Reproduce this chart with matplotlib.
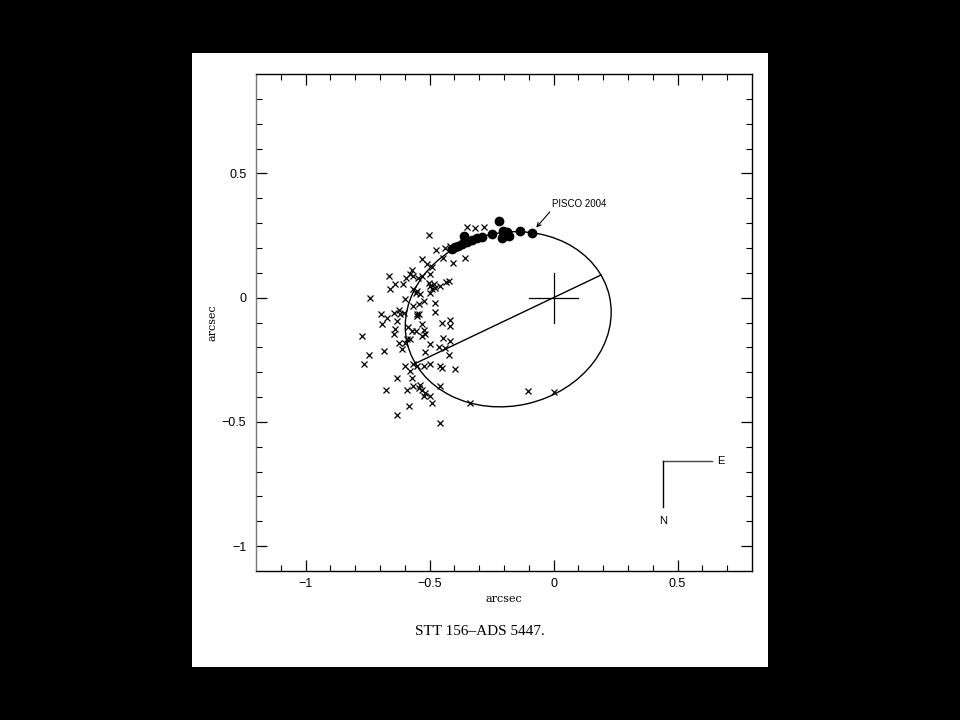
import matplotlib
matplotlib.use("Agg")
from matplotlib import pyplot as plt, patches
import numpy as np

plt.rcParams['font.family'] = ['Liberation Sans', 'DejaVu Sans']

# visual measurements (crosses)
cross_x = [-0.349, -0.316, -0.282, -0.501, -0.474, -0.437, -0.417, -0.356, -0.407, -0.444,
           -0.531, -0.510, -0.490, -0.497, -0.531, -0.547, -0.504, -0.497, -0.484, -0.477,
           -0.490, -0.457, -0.423, -0.433, -0.551, -0.537, -0.524, -0.544, -0.477, -0.497,
           -0.477, -0.544, -0.551, -0.450, -0.417, -0.417, -0.531, -0.665, -0.638, -0.658,
           -0.607, -0.594, -0.571, -0.581, -0.565, -0.739, -0.601, -0.565, -0.554, -0.696,
           -0.672, -0.645, -0.625, -0.618, -0.631, -0.605, -0.692, -0.565, -0.551, -0.638,
           -0.645, -0.586, -0.571, -0.591, -0.578, -0.598, -0.555, -0.773, -0.625, -0.611,
           -0.685, -0.746, -0.766, -0.601, -0.578, -0.565, -0.551, -0.631, -0.571, -0.565,
           -0.591, -0.675, -0.585, -0.631, -0.524, -0.517, -0.531, -0.444, -0.417, -0.497,
           -0.461, -0.437, -0.423, -0.517, -0.524, -0.497, -0.457, -0.450, -0.396, -0.537,
           -0.544, -0.531, -0.517, -0.497, -0.524, -0.490, -0.457, -0.336, -0.457, -0.103,
           0.000]
cross_y = [0.285, 0.279, 0.285, 0.251, 0.191, 0.199, 0.208, 0.161, 0.141, 0.161,
           0.154, 0.137, 0.123, 0.094, 0.087, 0.081, 0.060, 0.047, 0.054, 0.040,
           0.033, 0.047, 0.067, 0.062, 0.027, 0.013, -0.014, -0.027, -0.020, 0.020,
           -0.056, -0.065, -0.074, -0.104, -0.088, -0.115, -0.108, 0.087, 0.054, 0.036,
           0.054, 0.081, 0.110, 0.094, 0.087, 0.000, -0.007, 0.033, 0.020, -0.065,
           -0.083, -0.060, -0.051, -0.067, -0.094, -0.060, -0.108, -0.034, -0.067, -0.128,
           -0.148, -0.120, -0.135, -0.168, -0.168, -0.181, -0.135, -0.155, -0.181, -0.208,
           -0.215, -0.231, -0.265, -0.276, -0.296, -0.269, -0.276, -0.323, -0.323, -0.356,
           -0.370, -0.370, -0.437, -0.473, -0.132, -0.148, -0.155, -0.164, -0.175, -0.185,
           -0.199, -0.204, -0.229, -0.218, -0.276, -0.266, -0.276, -0.282, -0.289, -0.350,
           -0.363, -0.370, -0.383, -0.397, -0.397, -0.423, -0.356, -0.423, -0.504, -0.377,
           -0.379]

# speckle measurements (filled circles)
dot_x = [-0.222, -0.363, -0.396, -0.384, -0.369, -0.349, -0.329, -0.309, -0.289, -0.248,
         -0.203, -0.203, -0.188, -0.208, -0.181, -0.134, -0.087, -0.356, -0.408]
dot_y = [0.309, 0.248, 0.203, 0.207, 0.215, 0.222, 0.231, 0.239, 0.246, 0.258,
         0.267, 0.247, 0.263, 0.242, 0.247, 0.269, 0.259, 0.235, 0.197]

# apparent orbit
orbit_center = (-0.183, -0.087)
orbit_width = 0.837
orbit_height = 0.697
orbit_angle = 13.1
periastron = (0.191, 0.091)
apastron = (-0.558, -0.265)

fig = plt.figure(figsize=(9.6, 7.2), dpi=100, facecolor='black')
fig.patches.append(patches.Rectangle((0.2, 0.0736), 0.6, 0.8528, transform=fig.transFigure,
                                     facecolor='white', edgecolor='none', zorder=-1))
ax = fig.add_axes([0.26667, 0.20694, 0.51667, 0.69028])
ax.set_zorder(1)
ax.patch.set_alpha(0)

ellipse = patches.Ellipse(orbit_center, orbit_width, orbit_height, angle=orbit_angle,
                          fill=False, color='black', lw=1)
ax.add_patch(ellipse)
ax.plot([apastron[0], periastron[0]], [apastron[1], periastron[1]], color='black', lw=1)

# primary star
ax.plot([-0.1, 0.1], [0, 0], color='black', lw=0.9)
ax.plot([0, 0], [-0.1, 0.1], color='black', lw=0.9)

ax.plot(cross_x, cross_y, 'x', color='black', ms=4.5, mew=0.9)
ax.plot(dot_x, dot_y, 'o', color='black', ms=6)

ax.annotate('PISCO 2004', xy=(-0.070, 0.282), xytext=(-0.006, 0.356),
            fontsize=7, ha='left', va='bottom',
            arrowprops=dict(arrowstyle='->', color='black', lw=0.8,
                            shrinkA=0, shrinkB=0, relpos=(0, 0)))

# orientation
ax.plot([0.442, 0.640], [-0.656, -0.656], color='#444444', lw=1)
ax.plot([0.442, 0.442], [-0.656, -0.842], color='black', lw=1)
ax.text(0.675, -0.656, 'E', fontsize=8, ha='center', va='center')
ax.text(0.442, -0.898, 'N', fontsize=8, ha='center', va='center')

ax.set_xlim(-1.2, 0.8)
ax.set_ylim(-1.1, 0.9)
ax.set_xticks([-1, -0.5, 0, 0.5])
ax.set_xticklabels(['\u22121', '\u22120.5', '0', '0.5'])
ax.set_yticks([-1, -0.5, 0, 0.5])
ax.set_yticklabels(['\u22121', '\u22120.5', '0', '0.5'])
ax.set_xticks(np.arange(-1.1, 0.8, 0.1), minor=True)
ax.set_yticks(np.arange(-1.0, 0.9, 0.1), minor=True)
ax.tick_params(which='both', direction='in', top=True, right=True, labelsize=9)
ax.tick_params(axis='x', pad=5)
ax.tick_params(axis='y', pad=7)
ax.tick_params(which='major', length=8, width=0.9)
ax.tick_params(which='minor', length=4, width=0.8)
for s in ax.spines.values():
    s.set_linewidth(1)
ax.spines['left'].set_color('#777777')

ax.set_xlabel('arcsec', family='DejaVu Serif', fontsize=8, labelpad=3)
ax.set_ylabel('arcsec', family='DejaVu Serif', fontsize=8, labelpad=3)

fig.text(0.5, 0.123, 'STT 156\u2013ADS 5447.', family='Liberation Serif', fontsize=11,
         ha='center', va='center')

fig.savefig('out.png', dpi=100, facecolor='black')
